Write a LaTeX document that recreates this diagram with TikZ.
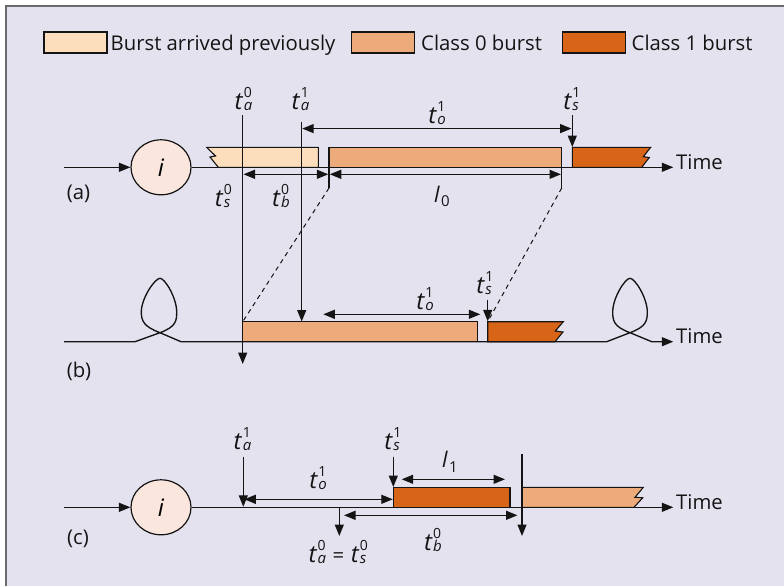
\documentclass[tikz,border=0pt]{standalone}
\usepackage{fontspec}
\setmainfont{Open Sans}
\usetikzlibrary{arrows.meta,shapes.geometric}

\definecolor{bgc}{RGB}{229,226,240}
\definecolor{framec}{RGB}{105,105,112}
\definecolor{prevc}{RGB}{252,221,188}
\definecolor{clsA}{RGB}{237,170,122}
\definecolor{clsB}{RGB}{216,100,24}
\definecolor{nodec}{RGB}{251,230,222}
\definecolor{ink}{RGB}{20,20,20}

\newcommand\lblfont{\fontsize{20.3}{24}\selectfont}
\newcommand\basefont{\fontsize{24}{26}\selectfont}
\newcommand\supfont{\fontsize{14}{14}\selectfont}
\newcommand\subfont{\fontsize{15}{15}\selectfont}
% time symbol: base letter, subscript, superscript
\newcommand\tsym[3]{{\basefont\textit{#1}}\kern0.4pt\rlap{\raisebox{12.5pt}{\supfont #3}}\raisebox{-1pt}{\subfont\textit{#2}}}
% length symbol with numeric subscript
\newcommand\lsym[2]{{\fontsize{21.5}{24}\selectfont\textit{#1}}\kern1.2pt\raisebox{-4.5pt}{\subfont #2}}

\tikzset{
  tip/.tip={Triangle[length=11.5pt,width=9pt]},
  ln/.style={draw=ink, line width=1.35pt},
  arr/.style={ln, -tip},
  darr/.style={ln, tip-tip},
  bar/.style={draw=ink, line width=1.1pt},
  lab/.style={inner sep=0pt, font=\lblfont, text=ink},
  key/.style={bar, minimum width=63pt, minimum height=21pt, inner sep=0pt},
  hub/.style={draw=ink, line width=1.2pt, fill=nodec, ellipse, minimum width=60pt, minimum height=55pt, inner sep=0pt, font=\basefont},
  guide/.style={draw=ink, line width=1pt, dash pattern=on 4.5pt off 4pt},
}

\begin{document}
\begin{tikzpicture}[x=1pt,y=-1pt]
\useasboundingbox (0,0) rectangle (784,586);
\fill[bgc] (6,6) rectangle (784,586);
\draw[framec, line width=2pt] (6,586) -- (6,6) -- (784,6);

% legend
\node[key, fill=prevc] (k0) at (75.5,42.5) {};
\node[lab, anchor=base west] (k0t) at (110.5,50.7) {Burst arrived previously};
\node[key, fill=clsA] (k1) at (383,42.5) {};
\node[lab, anchor=base west] (k1t) at (421,50.7) {Class 0 burst};
\node[key, fill=clsB] (k2) at (593.7,42.5) {};
\node[lab, anchor=base west] (k2t) at (631.5,50.7) {Class 1 burst};

% ---------------- (a) ----------------
\node[lab] (pa) at (78.5,194) {(a)};
\coordinate (ina) at (64,167.3);
\node[hub] (ia) at (161,167.3) {\textit{i}};
\coordinate (enda) at (673.3,167.3);
\node[lab, anchor=base west] (timea) at (676,169.3) {Time};
\draw[arr] (ina) -- (ia);
\draw[arr] (ia) -- (enda);

\draw[bar, fill=prevc] (206.7,147.3) -- (318.3,147.3) -- (318.3,167.3) -- (218.3,167.3)
  -- (210,157) -- (215.5,156) -- cycle;
\draw[bar, fill=clsA] (329,147.3) rectangle (561.7,167.3);
\draw[bar, fill=clsB] (572.3,147.3) -- (650.7,147.3) -- (643.3,156.7) -- (649.3,157.5)
  -- (641.7,167.3) -- (572.3,167.3) -- cycle;

\coordinate (a0s) at (329,167.3);  \coordinate (a0e) at (329,188);
\coordinate (a1s) at (561.7,167.3);\coordinate (a1e) at (561.7,188);
\draw[ln] (a0s) -- (a0e);
\draw[ln] (a1s) -- (a1e);

\node[lab] (ta0a) at (243.5,99) {\tsym{t}{a}{0}};
\node[lab] (ta1a) at (300.5,99) {\tsym{t}{a}{1}};
\node[lab] (toa) at (437,113) {\tsym{t}{o}{1}};
\node[lab] (tsa) at (571,99) {\tsym{t}{s}{1}};
\node[lab] (ts0a) at (222.5,196) {\tsym{t}{s}{0}};
\node[lab] (tb0a) at (281,196) {\tsym{t}{b}{0}};
\node[lab] (l0a) at (442,196.5) {\lsym{l}{0}};

\coordinate (v0t) at (242.7,115);   \coordinate (v0b) at (242.7,364);
\coordinate (v1t) at (301.7,121.7); \coordinate (v1b) at (301.7,321.5);
\draw[arr] (v0t) -- (v0b);
\draw[arr] (v1t) -- (v1b);

\coordinate (toaL) at (302.2,128.6); \coordinate (toaR) at (571.5,128.6);
\draw[darr] (toaL) -- (toaR);
\coordinate (tsaT) at (572.3,115); \coordinate (tsaB) at (572.3,147);
\draw[arr] (tsaT) -- (tsaB);
\coordinate (tbL) at (243.5,174.3); \coordinate (tbR) at (328.3,174.3);
\draw[darr] (tbL) -- (tbR);
\coordinate (l0L) at (329.8,174.3); \coordinate (l0R) at (561,174.3);
\draw[darr] (l0L) -- (l0R);

% ---------------- (b) ----------------
\node[lab] (pb) at (79,371) {(b)};
\coordinate (inb) at (64,341.7);
\coordinate (x1) at (160,332.7);
\coordinate (x2) at (630,332.7);
\coordinate (endb) at (673.3,341.7);
\node[lab, anchor=base west] (timeb) at (676,343.3) {Time};

\draw[arr] (inb) -- (135,341.7) -- (x1)
  .. controls +(16,-6) and +(0,9) .. (176.7,312)
  .. controls +(0,-14) and +(5,0) .. (160,278.3)
  .. controls +(-5,0) and +(0,-14) .. (141.3,312)
  .. controls +(0,9) and +(-16,-6) .. (x1)
  -- (181,341.7) -- (606.7,341.7) -- (x2)
  .. controls +(16,-6) and +(0,9) .. (647.3,312)
  .. controls +(0,-14) and +(5,0) .. (630,278.3)
  .. controls +(-5,0) and +(0,-14) .. (612.7,312)
  .. controls +(0,9) and +(-16,-6) .. (x2)
  -- (651.7,341.7) -- (endb);

\draw[bar, fill=clsA] (242.7,321.7) rectangle (477.5,341.7);
\draw[bar, fill=clsB] (487.7,321.7) -- (563.3,321.7) -- (555.3,331) -- (563,332)
  -- (555,341.7) -- (487.7,341.7) -- cycle;

\coordinate (g0) at (242.7,321.7); \coordinate (g1) at (487.7,321.7);
\draw[guide] (a0e) -- (g0);
\draw[guide] (a1e) -- (g1);

\node[lab] (tob) at (425,299) {\tsym{t}{o}{1}};
\node[lab] (tsb) at (484,283) {\tsym{t}{s}{1}};
\coordinate (tobL) at (323.3,314.3); \coordinate (tobR) at (480.3,314.3);
\draw[darr] (tobL) -- (tobR);
\coordinate (tsbT) at (487.7,299.5); \coordinate (tsbB) at (487.7,321.3);
\draw[arr] (tsbT) -- (tsbB);

% ---------------- (c) ----------------
\node[lab] (pc) at (78,539) {(c)};
\coordinate (inc) at (64,507.3);
\node[hub] (ic) at (161,507.3) {\textit{i}};
\coordinate (endc) at (673.3,507.3);
\node[lab, anchor=base west] (timec) at (676,509.3) {Time};
\draw[arr] (inc) -- (ic);
\draw[arr] (ic) -- (endc);

\draw[bar, fill=clsB] (393.3,487.3) rectangle (510,507.3);
\draw[bar, fill=clsA] (522,487.3) -- (643.3,487.3) -- (635,497.3) -- (642.7,497.8)
  -- (634,507.3) -- (522,507.3) -- cycle;

\node[lab] (ta1c) at (242.5,439) {\tsym{t}{a}{1}};
\node[lab] (toc) at (318,478) {\tsym{t}{o}{1}};
\node[lab] (tsc) at (392,439) {\tsym{t}{s}{1}};
\node[lab] (l1c) at (450,462) {\lsym{l}{1}};
\node[lab] (eqc) at (337.5,552) {\tsym{t}{a}{0}\kern6.5pt=\kern6.5pt\tsym{t}{s}{0}};
\node[lab] (tb0c) at (433,540) {\tsym{t}{b}{0}};

\coordinate (c1T) at (243.3,456.7); \coordinate (c1B) at (243.3,506.8);
\draw[arr] (c1T) -- (c1B);
\coordinate (tocL) at (244.3,499.3); \coordinate (tocR) at (392.8,499.3);
\draw[darr] (tocL) -- (tocR);
\coordinate (c2T) at (393.3,456.7); \coordinate (c2B) at (393.3,487);
\draw[arr] (c2T) -- (c2B);
\coordinate (l1L) at (401.7,479.3); \coordinate (l1R) at (505,479.3);
\draw[darr] (l1L) -- (l1R);
\coordinate (c3T) at (522,454.3); \coordinate (c3B) at (522,536);
\draw[arr] (c3T) -- (c3B);
\coordinate (c4T) at (339.3,507.3); \coordinate (c4B) at (339.3,536);
\draw[arr] (c4T) -- (c4B);
\coordinate (tbcL) at (344,515.3); \coordinate (tbcR) at (517.5,515.3);
\draw[darr] (tbcL) -- (tbcR);
\end{tikzpicture}
\end{document}
